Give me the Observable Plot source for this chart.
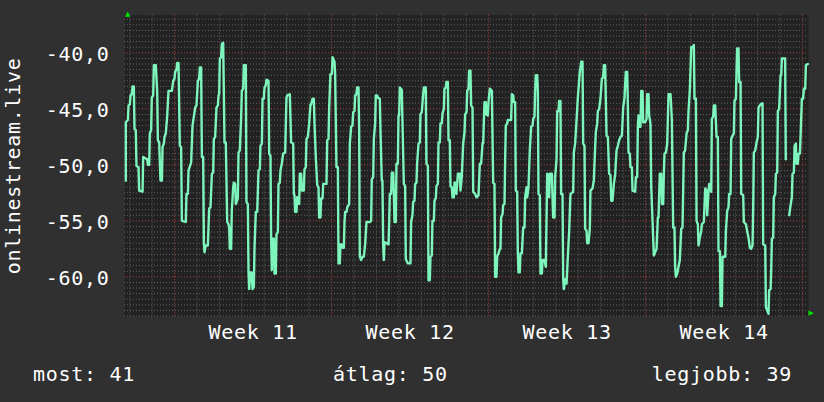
<!DOCTYPE html>
<html>
<head>
<meta charset="utf-8">
<script src="https://cdn.jsdelivr.net/npm/d3@7"></script>
<script src="https://cdn.jsdelivr.net/npm/@observablehq/plot@0.6"></script>
<style>
  html, body { margin: 0; padding: 0; background: #303030; }
  #wrap { position: relative; width: 824px; height: 402px; overflow: hidden; background: #303030; }
  svg text { letter-spacing: 0.7px; }
  #legend { position: absolute; left: 0; top: 350px; width: 824px; height: 52px;
    font-family: "DejaVu Sans Mono", monospace; font-size: 20px; line-height: 24px; color: #fff; letter-spacing: 0.7px; }
  #legend span { position: absolute; top: 12px; white-space: pre; }
</style>
</head>
<body>
<div id="wrap"><div id="chart"></div><div id="legend"></div></div>
<script>
// ---- data (hours since start, value) ----
const startTime = "2021-03-12T18:24:00Z";
const endHour = 731.9;
const axisTitle = "onlinestream.live";

const readingsA = [
[1.4,-51.4],[1.4,-46.2],[3.6,-46.0],[4.3,-44.7],[5.7,-44.6],[6.4,-43.8],[7.8,-43.7],[8.6,-43.0],[10.0,-43.0],[10.7,-46.8],[12.1,-46.9],[12.8,-50.1],[15.0,-50.2],[15.7,-52.3],[19.3,-52.4],[20.0,-49.3],[24.3,-49.5],[25.0,-50.0],[26.4,-50.0],[27.1,-47.2],[28.5,-46.9],[29.2,-44.0],[30.7,-43.8],[31.4,-41.1],[33.5,-41.1],[35.0,-43.5],[35.7,-47.8],[37.1,-48.0],[38.5,-51.4],[40.0,-51.4],[40.7,-48.4],[42.1,-48.1],[42.8,-47.5],[44.2,-47.2],[45.7,-45.6],[47.1,-43.4],[50.7,-43.4],[52.1,-42.5],[53.5,-42.3],[54.2,-41.7],[55.6,-41.5],[56.4,-40.9],[57.8,-40.9],[59.2,-48.3],[60.6,-48.4],[61.4,-55.0],[65.6,-55.1],[66.3,-52.6],[67.8,-52.6],[68.5,-50.5],[71.3,-49.8],[72.8,-46.5],[75.6,-44.9],[77.0,-44.7],[78.5,-42.5],[79.9,-42.3],[80.6,-41.3],[82.0,-41.3],[82.8,-49.3],[84.2,-49.3],[84.9,-56.9],[85.6,-57.8],[87.0,-57.2],[89.2,-57.2],[90.6,-53.9],[92.0,-53.8],[93.5,-50.8],[94.9,-50.7],[95.6,-47.7],[97.0,-47.5],[98.4,-44.9],[99.9,-44.7],[100.6,-43.8],[101.3,-43.7],[102.0,-40.5],[103.4,-40.4],[104.2,-39.2],[105.6,-39.1],[107.0,-48.0],[108.4,-48.0],[109.9,-55.1],[111.3,-55.3],[112.0,-55.6],[112.7,-57.5],[114.1,-57.5],[114.8,-54.1],[116.3,-52.0],[117.0,-51.6],[118.4,-51.7],[119.1,-53.5],[121.3,-53.0]
];
const readingsB = [
[122.0,-48.9],[123.4,-48.7],[124.8,-45.8],[125.5,-43.4],[127.0,-43.2],[127.7,-41.1],[129.8,-41.1],[130.5,-53.3],[132.0,-53.5],[132.7,-59.6],[133.4,-61.1],[134.8,-59.6],[136.2,-59.6],[137.0,-61.1],[138.4,-60.9],[139.1,-57.4],[140.5,-54.2],[142.0,-54.2],[143.4,-50.5],[144.8,-50.4],[145.5,-48.3],[147.0,-48.1],[147.7,-44.1],[149.1,-44.1],[149.8,-43.1],[151.2,-42.9],[152.0,-42.4],[154.1,-42.5],[154.8,-49.0],[156.2,-49.2],[156.9,-56.6],[157.6,-59.4],[158.4,-56.6],[159.8,-56.6],[160.5,-59.7],[161.9,-59.7],[162.6,-56.2],[164.1,-56.0],[164.8,-51.7],[166.2,-51.6],[166.9,-50.5],[168.3,-49.9],[169.8,-49.0],[171.9,-48.9],[173.3,-44.0],[174.1,-43.8],[176.9,-43.7],[178.3,-48.0],[180.5,-48.1],[181.2,-52.6],[181.9,-52.7],[182.6,-54.2],[184.0,-54.2],[184.8,-52.9],[186.2,-52.9],[186.9,-53.5],[187.6,-50.8],[189.0,-50.8],[189.8,-52.3],[191.9,-52.3],[192.6,-50.4],[194.0,-50.2],[194.7,-47.7],[196.2,-47.5],[197.6,-46.3],[199.0,-44.6],[199.7,-44.6],[201.2,-44.1],[202.6,-44.1],[203.3,-46.3],[204.7,-49.3],[206.2,-51.8],[207.6,-52.0],[208.3,-54.7],[209.7,-54.7],[210.4,-53.0],[211.9,-53.0],[212.6,-51.7],[216.1,-51.7],[216.9,-47.8],[218.3,-47.7],[219.0,-44.9],[220.4,-41.9],[221.9,-41.9],[222.6,-40.4],[224.7,-40.8],[225.4,-41.9],[226.8,-50.2],[228.3,-50.2],[229.0,-58.8],[230.4,-58.8],[231.1,-57.1],[232.6,-57.1],[233.3,-57.4],[234.7,-57.4],[235.4,-55.1],[236.1,-54.2],[237.6,-54.2],[238.3,-53.8],[240.4,-53.5],[241.1,-48.1]
];
const readingsC = [
[242.5,-46.6],[243.9,-46.5],[244.7,-45.3],[246.1,-45.2],[246.8,-43.8],[248.2,-43.7],[248.9,-43.1],[250.4,-43.1],[251.1,-46.9],[251.8,-58.2],[253.2,-58.5],[254.6,-58.2],[256.1,-58.2],[257.5,-57.1],[258.9,-55.1],[262.5,-55.1],[263.9,-55.0],[264.6,-51.3],[266.1,-51.1],[266.8,-47.7],[268.2,-46.3],[268.9,-43.8],[270.3,-43.8],[271.1,-44.0],[273.2,-44.1],[273.9,-46.9],[275.3,-51.4],[276.0,-51.4],[276.8,-57.2],[277.5,-58.5],[278.2,-56.9],[282.5,-57.1],[283.2,-55.1],[283.9,-52.6],[285.3,-52.6],[286.0,-50.7],[287.5,-50.7],[288.2,-52.6],[288.9,-55.1],[290.3,-55.1],[291.0,-49.9],[292.5,-49.9],[293.2,-45.6],[293.9,-45.6],[294.6,-43.1],[296.7,-43.3],[297.4,-46.0],[298.9,-51.7],[300.3,-51.9],[301.0,-58.4],[303.2,-58.8],[306.0,-58.8],[306.7,-55.1],[308.1,-54.5],[308.9,-53.3],[310.3,-53.2],[311.0,-51.7],[312.4,-51.6],[313.1,-49.9],[314.6,-48.1],[316.0,-48.0],[316.7,-45.5],[318.1,-45.3],[318.9,-44.4],[320.3,-43.1],[322.4,-43.1],[323.1,-49.9],[324.6,-50.1],[325.3,-60.3],[326.7,-60.3],[327.4,-58.2],[328.8,-58.1],[329.5,-55.0],[331.0,-55.0],[331.7,-53.2],[333.1,-53.0],[333.8,-51.9],[335.3,-51.7],[336.0,-48.0],[337.4,-48.0],[338.1,-46.3],[339.5,-46.3],[340.3,-45.4],[341.7,-45.0],[342.4,-43.2],[343.8,-43.1],[344.5,-42.6],[346.0,-42.6],[346.7,-47.8],[348.1,-47.8],[348.8,-51.9],[350.2,-52.0],[351.0,-52.9],[352.4,-52.9],[353.1,-51.6],[354.5,-51.6],[355.2,-52.6],[356.7,-50.8],[358.8,-50.8],[359.5,-52.3],[360.9,-51.1],[362.4,-48.1]
];
const readingsD = [
[363.8,-47.1],[364.5,-45.5],[366.0,-45.3],[366.7,-43.4],[368.1,-43.2],[368.8,-41.6],[370.2,-41.6],[370.9,-44.7],[372.4,-44.9],[373.1,-52.4],[375.2,-52.6],[376.6,-52.9],[378.8,-52.7],[380.2,-49.9],[381.6,-49.9],[383.1,-48.1],[383.8,-48.1],[385.2,-44.4],[386.6,-44.4],[387.3,-45.5],[388.8,-45.6],[389.5,-44.4],[390.9,-43.2],[393.1,-43.4],[394.5,-51.6],[395.9,-51.7],[396.6,-60.0],[398.0,-60.0],[398.8,-58.2],[400.2,-57.9],[401.6,-57.5],[402.3,-57.5],[403.0,-54.7],[404.5,-54.4],[405.2,-53.6],[406.6,-53.5],[407.3,-49.6],[408.0,-46.5],[409.5,-46.3],[410.2,-46.0],[413.7,-46.0],[414.5,-43.7],[415.9,-43.8],[416.6,-44.4],[418.0,-44.4],[418.7,-52.3],[420.2,-52.4],[420.9,-57.9],[421.6,-59.6],[423.0,-59.6],[423.7,-57.9],[425.2,-57.9],[426.6,-55.6],[428.0,-55.6],[428.7,-52.9],[430.2,-52.0],[430.9,-52.9],[432.3,-52.0],[433.7,-48.7],[435.1,-46.6],[436.6,-46.5],[437.3,-45.9],[438.7,-45.7],[439.4,-43.4],[440.1,-42.0],[441.6,-42.0],[442.3,-43.4],[443.0,-52.6],[444.4,-52.7],[445.1,-59.7],[446.6,-59.7],[447.3,-58.5],[449.4,-58.5],[450.8,-59.1],[451.5,-55.3],[452.3,-50.8],[453.7,-50.9],[454.4,-52.9],[455.1,-50.8],[457.3,-50.8],[458.0,-52.9],[458.7,-54.7],[460.1,-54.7],[460.8,-51.1],[462.3,-49.5],[463.0,-45.2],[464.4,-45.2],[465.1,-44.3],[466.5,-44.3],[467.2,-52.6],[468.7,-52.6],[469.4,-60.2],[470.1,-61.1],[471.5,-60.2],[473.0,-60.6],[474.4,-58.2],[475.8,-55.9],[477.2,-52.6],[480.1,-52.4],[480.8,-48.9],[482.2,-48.1],[483.7,-46.0],[485.1,-44.0]
];
const readingsE = [
[487.2,-41.7],[488.7,-40.8],[490.1,-40.8],[490.8,-48.1],[492.2,-48.3],[492.9,-55.7],[494.4,-55.9],[495.1,-57.0],[496.5,-57.0],[497.9,-55.7],[498.6,-52.3],[500.8,-52.1],[502.2,-51.4],[502.9,-49.9],[504.3,-47.1],[505.8,-46.3],[506.5,-45.2],[507.9,-45.0],[509.3,-44.1],[510.8,-42.3],[512.2,-42.2],[512.9,-41.1],[514.3,-41.1],[515.8,-47.4],[517.2,-47.5],[518.6,-50.8],[520.0,-50.9],[520.8,-53.2],[522.2,-53.2],[523.6,-51.7],[525.0,-50.9],[526.5,-48.7],[527.9,-48.3],[529.3,-47.8],[530.7,-47.5],[532.2,-47.4],[533.6,-44.9],[535.0,-44.0],[536.4,-41.7],[537.9,-41.7],[538.6,-44.7],[539.3,-48.9],[540.7,-49.0],[541.4,-50.2],[542.9,-50.2],[543.6,-52.3],[546.4,-52.4],[547.2,-51.1],[548.6,-51.1],[549.3,-46.5],[550.0,-45.6],[551.4,-46.6],[552.1,-46.6],[552.9,-43.4],[554.3,-43.4],[555.0,-46.2],[557.1,-46.2],[558.6,-45.9],[559.3,-43.7],[560.7,-43.7],[561.4,-45.6],[562.8,-46.3],[563.6,-51.9],[565.0,-55.0],[566.4,-58.1],[567.8,-57.8],[569.3,-57.5],[570.7,-54.7],[571.4,-54.7],[572.8,-50.8],[574.3,-50.8],[575.0,-53.5],[576.4,-53.5],[577.1,-50.9],[577.8,-49.0],[579.3,-48.9],[580.7,-48.1],[581.4,-45.9],[582.1,-43.7],[584.3,-43.7],[585.7,-46.0],[587.1,-55.6],[588.5,-55.6],[589.2,-59.1],[590.0,-60.0],[591.4,-59.7],[592.8,-59.1],[594.2,-58.5],[595.7,-55.7],[597.1,-55.6],[598.5,-48.9],[599.9,-48.7],[601.4,-47.2],[602.8,-46.9],[603.5,-45.2],[605.0,-43.2],[606.4,-39.5],[607.8,-39.5]
];
const readingsF = [
[609.2,-39.3],[609.9,-44.1],[611.4,-44.1],[612.1,-55.0],[613.5,-55.3],[614.2,-57.2],[615.6,-56.5],[617.1,-55.9],[617.8,-55.3],[619.9,-55.1],[621.4,-52.1],[622.8,-52.3],[623.5,-54.5],[624.9,-52.4],[625.6,-51.7],[627.8,-52.4],[628.5,-45.9],[629.9,-45.7],[630.6,-44.7],[632.1,-44.7],[633.5,-47.5],[634.9,-47.5],[635.6,-57.7],[637.1,-57.7],[637.8,-62.6],[639.2,-62.6],[639.9,-58.2],[642.8,-58.2],[643.5,-55.9],[644.9,-54.1],[646.3,-53.8],[647.0,-52.6],[648.5,-52.6],[649.2,-47.7],[650.6,-47.4],[652.0,-47.2],[652.7,-44.3],[654.2,-44.1],[654.9,-41.6],[655.6,-39.6],[657.0,-39.6],[657.7,-42.6],[659.2,-42.6],[659.9,-52.6],[662.0,-52.7],[662.7,-55.1],[664.9,-55.3],[666.3,-55.9],[667.7,-56.5],[669.2,-57.4],[670.6,-57.5],[672.0,-57.2],[672.7,-53.9],[673.4,-48.9],[674.9,-48.7],[676.3,-48.0],[677.7,-47.5],[678.4,-44.9],[679.9,-44.7],[680.6,-44.6],[682.7,-44.5],[683.4,-57.1],[685.6,-57.2],[686.3,-62.7],[687.7,-63.0],[689.1,-63.3],[689.8,-61.2],[691.3,-61.1],[692.0,-59.4],[692.7,-56.6],[694.1,-56.5],[694.8,-52.9],[696.3,-52.6],[697.0,-50.8],[698.4,-50.7],[699.1,-45.2],[700.5,-45.0],[702.0,-42.0],[702.7,-42.0],[703.4,-40.5],[706.9,-40.5],[707.6,-49.5],[709.5,null],[711.3,-54.5],[712.7,-53.6],[714.1,-52.9],[714.8,-50.8],[716.2,-50.7],[717.0,-48.3],[718.4,-48.1],[719.1,-49.9],[720.5,-49.9],[721.2,-49.0],[722.7,-49.0],[723.4,-47.5],[724.8,-44.1],[726.2,-44.1],[726.9,-43.2],[728.4,-43.2],[729.1,-41.1],[731.2,-41.0]
];

const yTicks = [-40, -45, -50, -55, -60];
const yTickLabels = ["-40,0", "-45,0", "-50,0", "-55,0", "-60,0"];
const weekLabels = ["Week 11", "Week 12", "Week 13", "Week 14"];
const legendLabels = ["most", "átlag", "legjobb"];
const legendValues = [41, 50, 39];

// ---- build ----
const t0 = new Date(startTime).getTime();
const H = 3600e3;
const start = new Date(t0);
const end = new Date(t0 + endHour * H);
const data = [...readingsA, ...readingsB, ...readingsC, ...readingsD, ...readingsE, ...readingsF]
  .map(([h, v]) => ({time: new Date(t0 + h * H), value: v}));

const yDomain = [-63.54, -36.64];
const minorY = d3.range(-63.5, -36.6, 0.5).filter(v => v % 5 !== 0);
const majorY = d3.range(-60, -36.6, 5);
const mondays = d3.utcMonday.range(start, end);
const minorX = d3.utcDay.range(start, end).filter(d => d.getUTCDay() !== 1);
const weekMid = mondays.map(d => new Date(d.getTime() + 3.5 * 24 * H));
const yLab = new Map(yTicks.map((v, i) => [v, yTickLabels[i]]));

const font = "DejaVu Sans Mono";
const chart = Plot.plot({
  width: 824,
  height: 350,
  marginLeft: 124,
  marginRight: 16,
  marginTop: 14.7,
  marginBottom: 34,
  x: {type: "utc", domain: [start, end], axis: null},
  y: {domain: yDomain, axis: null},
  style: {background: "transparent", fontFamily: font, fontSize: "20px", color: "#ffffff", overflow: "visible"},
  marks: [
    Plot.frame({fill: "#222222", stroke: "none"}),
    Plot.ruleY(minorY, {stroke: "#626262", strokeDasharray: "1,2"}),
    Plot.ruleX(minorX, {stroke: "#626262", strokeDasharray: "1,2"}),
    Plot.ruleY(majorY, {stroke: "#b04646", strokeDasharray: "1,2"}),
    Plot.ruleX(mondays, {stroke: "#b04646", strokeDasharray: "1,2"}),
    Plot.line(data, {x: "time", y: "value", stroke: "#7df5bc", strokeWidth: 2.4}),
    Plot.text(yTicks, {y: d => d, text: d => yLab.get(d), frameAnchor: "left", textAnchor: "end",
      dx: -15, dy: 2, fill: "#ffffff", fontSize: 20, fontFamily: font}),
    Plot.text(weekMid, {x: d => d, text: (d, i) => weekLabels[i], frameAnchor: "bottom", lineAnchor: "top",
      dy: 8, fill: "#ffffff", fontSize: 20, fontFamily: font}),
    Plot.text([axisTitle], {frameAnchor: "left", textAnchor: "middle", rotate: -90, dx: -111, fill: "#ffffff", fontSize: 20, fontFamily: font}),
    Plot.text(["▲"], {frameAnchor: "top-left", dx: 0.5, dy: -4, fill: "#00dd00", fontSize: 7, fontFamily: "DejaVu Sans"}),
    Plot.text(["▶"], {frameAnchor: "bottom-right", dx: 6, dy: -1.3, fill: "#00dd00", fontSize: 7, fontFamily: "DejaVu Sans"})
  ]
});
document.getElementById("chart").appendChild(chart);

const legend = document.getElementById("legend");
const positions = [{left: "33px"}, {left: "333px"}, {right: "32px"}];
legendLabels.forEach((lab, i) => {
  const s = document.createElement("span");
  s.textContent = `${lab}: ${legendValues[i]}`;
  Object.assign(s.style, positions[i]);
  legend.appendChild(s);
});
</script>
</body>
</html>
